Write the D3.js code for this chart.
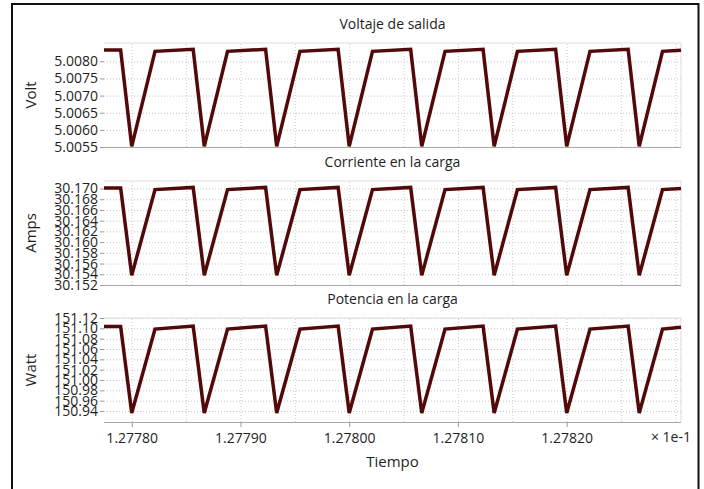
<!DOCTYPE html>
<html>
<head>
<meta charset="utf-8">
<script src="https://cdn.jsdelivr.net/npm/d3@7"></script>
<style>
  html, body { margin: 0; padding: 0; background: #fff; }
  svg { display: block; font-family: "Open Sans", "Noto Sans", sans-serif; }
  .tick text { fill: #1e1e1e; }
</style>
</head>
<body>
<svg id="chart" width="704" height="489"></svg>
<script>
// Sample times (axis units × 1e-1 s)
const times = [
  1.2777745,
  1.2777898, 1.2778000, 1.2778214,
  1.2778565, 1.2778667, 1.2778881,
  1.2779231, 1.2779333, 1.2779547,
  1.2779898, 1.2780000, 1.2780214,
  1.2780565, 1.2780667, 1.2780881,
  1.2781231, 1.2781333, 1.2781547,
  1.2781898, 1.2782000, 1.2782214,
  1.2782565, 1.2782667, 1.2782881,
  1.2783051
];

// Output voltage (V)
const voltage = [
  5.00833,
  5.00833, 5.00552, 5.00829,
  5.00835, 5.00552, 5.00829,
  5.00835, 5.00552, 5.00829,
  5.00835, 5.00552, 5.00829,
  5.00835, 5.00552, 5.00829,
  5.00835, 5.00552, 5.00829,
  5.00835, 5.00552, 5.00829,
  5.00835, 5.00552, 5.00829,
  5.00832
];

// Load current (A)
const current = [
  30.1701,
  30.1701, 30.1538, 30.1698,
  30.1702, 30.1538, 30.1698,
  30.1702, 30.1538, 30.1698,
  30.1702, 30.1538, 30.1698,
  30.1702, 30.1538, 30.1698,
  30.1702, 30.1538, 30.1698,
  30.1702, 30.1538, 30.1698,
  30.1702, 30.1538, 30.1698,
  30.1700
];

// Load power (W)
const power = [
  151.1035,
  151.1035, 150.9360, 151.0985,
  151.1045, 150.9360, 151.0985,
  151.1045, 150.9360, 151.0985,
  151.1045, 150.9360, 151.0985,
  151.1045, 150.9360, 151.0985,
  151.1045, 150.9360, 151.0985,
  151.1045, 150.9360, 151.0985,
  151.1045, 150.9360, 151.0985,
  151.1020
];

const panelTitles = ["Voltaje de salida", "Corriente en la carga", "Potencia en la carga"];
const yTitles = ["Volt", "Amps", "Watt"];

const voltTicks = [5.0055, 5.0060, 5.0065, 5.0070, 5.0075, 5.0080];
const ampTicks = [30.152, 30.154, 30.156, 30.158, 30.160, 30.162, 30.164, 30.166, 30.168, 30.170];
const wattTicks = [150.94, 150.96, 150.98, 151.00, 151.02, 151.04, 151.06, 151.08, 151.10, 151.12];

const xTicks = [1.27780, 1.27790, 1.27800, 1.27810, 1.27820];
const xGridTicks = [1.27780, 1.27785, 1.27790, 1.27795, 1.27800, 1.27805,
                    1.27810, 1.27815, 1.27820, 1.27825, 1.27830];
const xDomain = [1.2777745, 1.2783051];
const xLabel = "Tiempo";
const xMultiplier = "× 1e-1";

const panels = [
  { title: panelTitles[0], yTitle: yTitles[0], values: voltage, ticks: voltTicks, fmt: ".4f", domain: [5.0055, 5.008534] },
  { title: panelTitles[1], yTitle: yTitles[1], values: current, ticks: ampTicks, fmt: ".3f", domain: [30.152, 30.1714] },
  { title: panelTitles[2], yTitle: yTitles[2], values: power, ticks: wattTicks, fmt: ".2f", domain: [150.9187, 151.12] }
];

const svg = d3.select("#chart");

// outer frame
svg.append("rect")
  .attr("x", 12).attr("y", 4)
  .attr("width", 686.5).attr("height", 492)
  .attr("fill", "none").attr("stroke", "#111").attr("stroke-width", 2);

const left = 104, right = 681, panelH = 104;
const tops = [43, 181, 318];

const x = d3.scaleLinear().domain(xDomain).range([left, right]);

panels.forEach((p, i) => {
  const top = tops[i];
  const y = d3.scaleLinear().domain(p.domain).range([top + panelH, top]);
  const g = svg.append("g");

  // vertical grid
  g.append("g")
    .attr("transform", `translate(0,${top + panelH})`)
    .call(d3.axisBottom(x).tickValues(xGridTicks).tickSize(-panelH).tickFormat(""))
    .call(s => s.select(".domain").remove())
    .call(s => s.selectAll("line").attr("stroke", "#cdcdcd").attr("stroke-dasharray", "1,2"));

  // horizontal grid
  g.append("g")
    .attr("transform", `translate(${left},0)`)
    .call(d3.axisLeft(y).tickValues(p.ticks).tickSize(-(right - left)).tickFormat(""))
    .call(s => s.select(".domain").remove())
    .call(s => s.selectAll("line").attr("stroke", "#c8c8c8").attr("stroke-dasharray", "1,2"));

  // frame of the plot area
  g.append("line").attr("x1", left).attr("x2", right).attr("y1", top).attr("y2", top)
    .attr("stroke", "#dcdcdc");
  g.append("line").attr("x1", right).attr("x2", right).attr("y1", top).attr("y2", top + panelH)
    .attr("stroke", "#dcdcdc");

  // y axis
  const ya = g.append("g")
    .attr("transform", `translate(${left},0)`)
    .call(d3.axisLeft(y).tickValues(p.ticks).tickFormat(d3.format(p.fmt)).tickSize(4).tickPadding(2));
  ya.select(".domain").remove();
  ya.selectAll("line").attr("stroke", "#999");
  ya.selectAll("text").attr("font-size", 14).attr("font-family", '"Open Sans", sans-serif');

  // bottom axis line
  const xa = g.append("g")
    .attr("transform", `translate(0,${top + panelH})`)
    .call(d3.axisBottom(x).tickValues(xTicks).tickSize(i === 2 ? 5 : 0)
      .tickFormat(i === 2 ? d3.format(".5f") : ""));
  xa.select(".domain").attr("stroke", "#a8a8a8").attr("d", `M${left},0.5H${right}`);
  xa.selectAll("line").attr("stroke", "#999");
  xa.selectAll("text").attr("font-size", 14).attr("dy", "0.95em")
    .attr("font-family", '"Open Sans", sans-serif');

  // series
  const line = d3.line().x((d, k) => x(times[k])).y(d => y(d));
  g.append("path")
    .datum(p.values)
    .attr("d", line)
    .attr("fill", "none")
    .attr("stroke", "#520909")
    .attr("stroke-width", 3.5)
    .attr("stroke-linejoin", "miter");

  // panel title
  svg.append("text")
    .attr("x", (left + right) / 2).attr("y", top - 14)
    .attr("text-anchor", "middle")
    .attr("font-size", 14).attr("fill", "#1e1e1e")
    .text(p.title);

  // y title
  svg.append("text")
    .attr("transform", `translate(36,${top + panelH / 2}) rotate(-90)`)
    .attr("text-anchor", "middle")
    .attr("font-size", 15).attr("fill", "#1e1e1e")
    .text(p.yTitle);
});

svg.append("text")
  .attr("x", 691).attr("y", 442)
  .attr("text-anchor", "end")
  .attr("font-size", 14).attr("fill", "#1e1e1e")
  .text(xMultiplier);

svg.append("text")
  .attr("x", (left + right) / 2).attr("y", 467)
  .attr("text-anchor", "middle")
  .attr("font-size", 15).attr("fill", "#1e1e1e")
  .text(xLabel);
</script>
</body>
</html>
